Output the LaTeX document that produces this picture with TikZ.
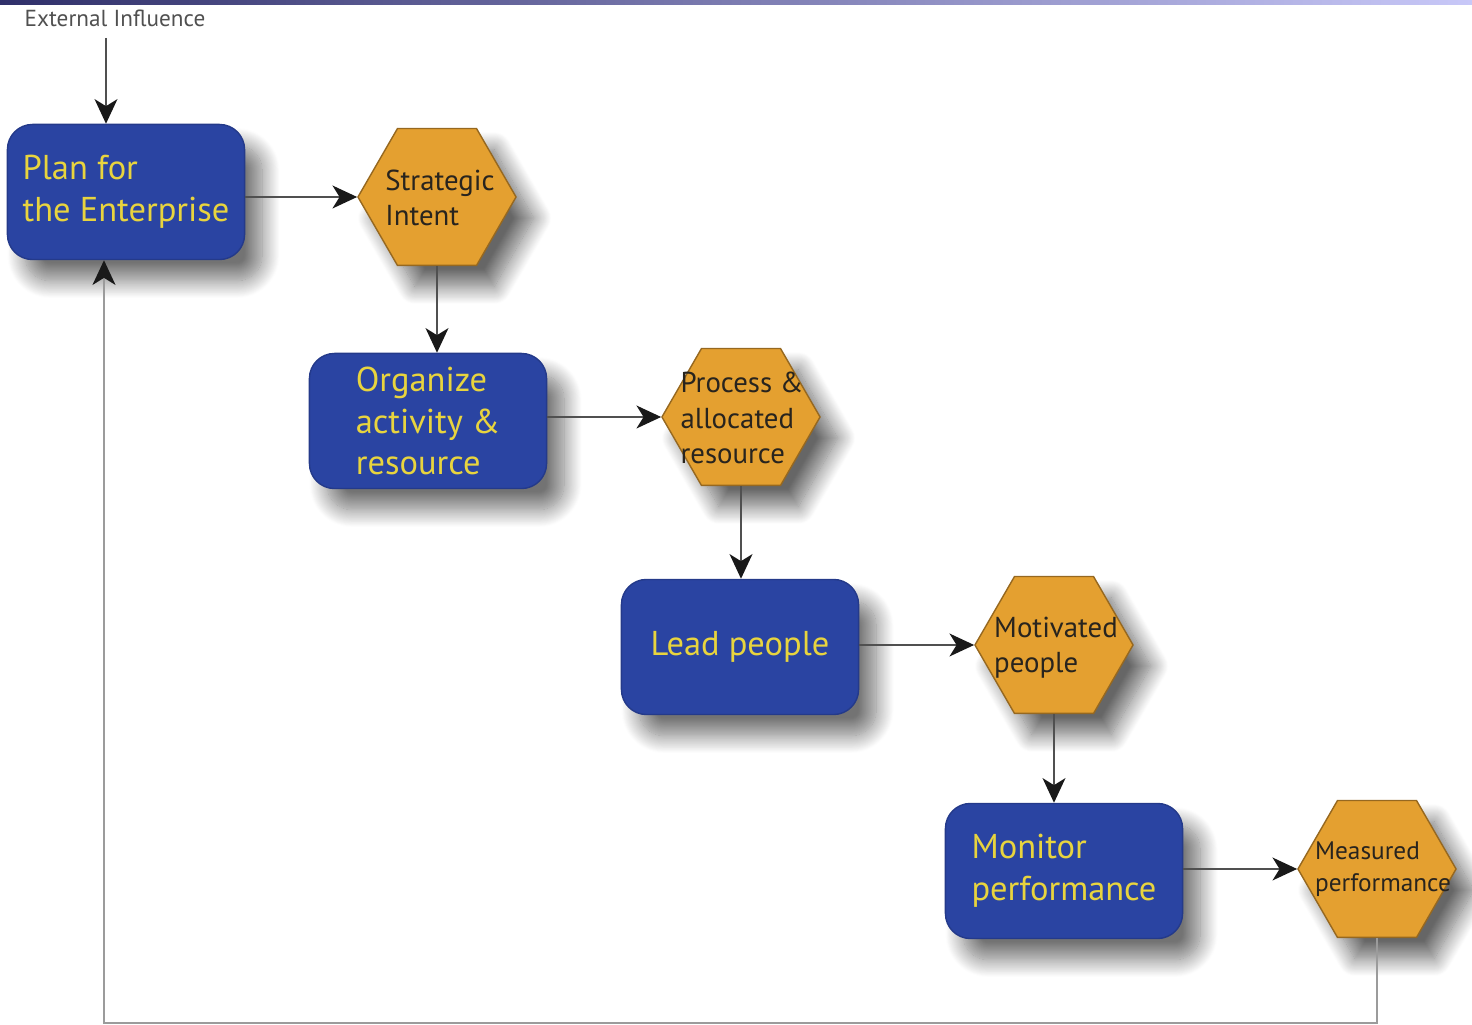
\documentclass[tikz,border=0pt]{standalone}
\usepackage{fontspec}
\setmainfont{PT Sans}
\usepackage{tikz}
\usetikzlibrary{shapes.geometric, arrows.meta, shadows.blur}

\definecolor{boxblue}{RGB}{42,68,162}
\definecolor{boxink}{RGB}{232,212,62}
\definecolor{hexorange}{RGB}{228,160,48}
\definecolor{hexline}{RGB}{150,104,32}
\definecolor{hexink}{RGB}{40,36,30}
\definecolor{linegray}{RGB}{80,80,80}
\definecolor{loopgray}{RGB}{155,155,155}
\definecolor{barleft}{RGB}{48,48,106}
\definecolor{barright}{RGB}{200,200,248}

\begin{document}
\begin{tikzpicture}
  [
    x=0.01cm, y=-0.01cm,
    box/.style={draw=boxblue!85!black, fill=boxblue, rounded corners=0.25cm,
      minimum width=2.37cm, minimum height=1.35cm, align=left, text=boxink,
      font=\fontsize{9.8}{11.9}\selectfont,
      blur shadow={shadow xshift=5pt, shadow yshift=-6pt, shadow blur radius=5pt,
        shadow blur steps=20, shadow opacity=55}},
    hex/.style={regular polygon, regular polygon sides=6, minimum size=1.58cm,
      inner sep=0pt, draw=hexline, fill=hexorange,
      blur shadow={shadow xshift=5pt, shadow yshift=-6pt, shadow blur radius=5pt,
        shadow blur steps=20, shadow opacity=60}},
    hextext/.style={align=left, text=hexink, font=\fontsize{8.2}{10}\selectfont},
    arr/.style={draw=linegray, line width=0.6pt, -{Stealth[length=7pt, width=6.5pt, inset=2pt, color=black!90]}}
  ]
  \useasboundingbox (0,0) rectangle (1472,1025);
  % top bar
  \shade[left color=barleft, right color=barright] (0,0) rectangle (1472,5);
  % boxes
  \node [box] (plan) at (126,192) {Plan for\\the Enterprise};
  \node [box] (org) at (428,421) {Organize\\activity \&\\resource};
  \node [box] (lead) at (740,647) {Lead people};
  \node [box] (mon) at (1064,871) {Monitor\\performance};
  % hexagons
  \node [hex] (si) at (437,197) {};
  \node [hex] (pa) at (741,417) {};
  \node [hex] (mp) at (1054,645) {};
  \node [hex] (mf) at (1377,869) {};
  \node [hextext] (si-t) at (440,198) {Strategic\\Intent};
  \node [hextext] (pa-t) at (742,418) {Process \&\\allocated\\resource};
  \node [hextext] (mp-t) at (1056,648) {Motivated\\people};
  \node [hextext, font=\fontsize{7.2}{9}\selectfont] (mf-t) at (1383,869) {Measured\\performance};
  % labels
  \node [text=linegray, font=\fontsize{6.6}{8}\selectfont] (ext) at (115,18) {External Influence};
  \coordinate (in) at (106,38);
  \coordinate (loop) at (104,1023);
  % flow
  \draw [arr] (in) -- (in |- plan.north);
  \draw [arr] (plan.east |- si.west) -- (si.west);
  \draw [arr] (si.south) -- (si.south |- org.north);
  \draw [arr] (org.east |- pa.west) -- (pa.west);
  \draw [arr] (pa.south) -- (pa.south |- lead.north);
  \draw [arr] (lead.east |- mp.west) -- (mp.west);
  \draw [arr] (mp.south) -- (mp.south |- mon.north);
  \draw [arr] (mon.east |- mf.west) -- (mf.west);
  % feedback
  \draw [arr, draw=loopgray, line width=0.8pt] (mf.south) |- (loop) -- (loop |- plan.south);
\end{tikzpicture}
\end{document}
